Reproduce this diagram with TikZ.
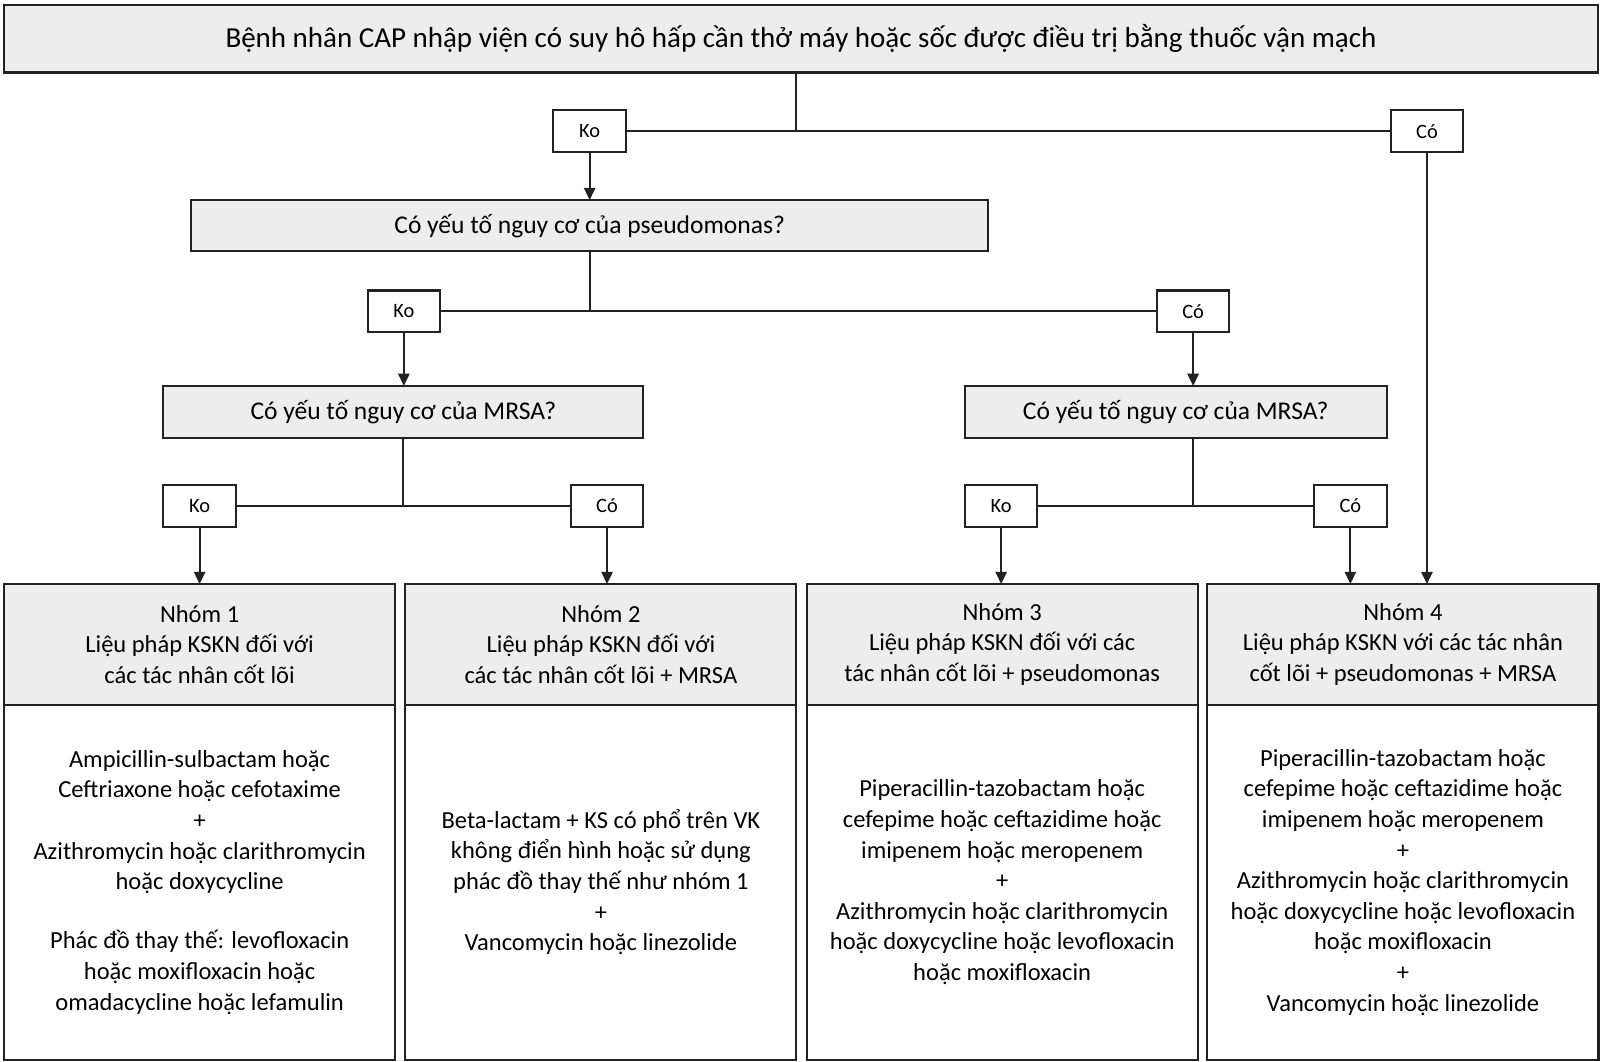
\documentclass[tikz,border=0pt]{standalone}
\usepackage{fontspec}
\setmainfont{Carlito}
\usetikzlibrary{arrows.meta}

\definecolor{boxgray}{HTML}{EDEDED}
\definecolor{linegray}{HTML}{222222}

\begin{document}
\begin{tikzpicture}[x=0.5pt,y=-0.5pt,
    box/.style={draw=linegray,line width=1pt,fill=boxgray,inner sep=0pt,outer sep=0pt,
      font=\fontsize{12}{15}\selectfont},
    question/.style={box,font=\fontsize{12.5}{15}\selectfont},
    answer/.style={draw=linegray,line width=1pt,fill=white,minimum width=35.5pt,
      minimum height=20.5pt,inner sep=0pt,outer sep=0pt,font=\fontsize{10}{12}\selectfont},
    grouphead/.style={box,minimum width=191.5pt,minimum height=59pt,align=center},
    groupbody/.style={box,fill=white,minimum width=191.5pt,minimum height=174pt,align=center},
    link/.style={draw=linegray,line width=1pt},
    arrow/.style={link,-{Triangle[length=6pt,width=5.5pt]}}]
  \useasboundingbox (0,0) rectangle (1567,1040);

  % question boxes
  \node[question,minimum width=780.5pt,minimum height=33pt,font=\fontsize{14.2}{17}\selectfont]
    (start) at (784.5,38) {Bệnh nhân CAP nhập viện có suy hô hấp cần thở máy hoặc sốc được điều trị bằng thuốc vận mạch};
  \node[question,minimum width=390.5pt,minimum height=25pt] (pseudo) at (577.5,221)
    {Có yếu tố nguy cơ của pseudomonas?};
  \node[question,minimum width=235pt,minimum height=25.5pt] (mrsaL) at (395,403.5)
    {Có yếu tố nguy cơ của MRSA?};
  \node[question,minimum width=206.5pt,minimum height=25.5pt] (mrsaR) at (1151.5,403.5)
    {Có yếu tố nguy cơ của MRSA?};

  % answers
  \node[answer] (ko1) at (577.5,128.5) {Ko};
  \node[answer] (co1) at (1397.5,128.5) {Có};
  \node[answer] (ko2) at (395.5,305) {Ko};
  \node[answer] (co2) at (1168.5,305) {Có};
  \node[answer] (ko3) at (195.5,495.5) {Ko};
  \node[answer] (co3) at (594.5,495.5) {Có};
  \node[answer] (ko4) at (980.5,495.5) {Ko};
  \node[answer] (co4) at (1322.5,495.5) {Có};
  \coordinate (split1) at (780,128.5);

  % groups
  \node[grouphead] (head1) at (195.5,631) {Nhóm 1\\Liệu pháp KSKN đối với\\các tác nhân cốt lõi};
  \node[grouphead] (head2) at (588.5,631) {Nhóm 2\\Liệu pháp KSKN đối với\\các tác nhân cốt lõi + MRSA};
  \node[grouphead] (head3) at (981.5,631) {Nhóm 3\\Liệu pháp KSKN đối với các\\tác nhân cốt lõi + pseudomonas};
  \node[grouphead] (head4) at (1374,631) {Nhóm 4\\Liệu pháp KSKN với các tác nhân\\cốt lõi + pseudomonas + MRSA};

  \node[groupbody] (body1) at (195.5,864) {Ampicillin-sulbactam hoặc\\Ceftriaxone hoặc cefotaxime\\+\\
    Azithromycin hoặc clarithromycin\\hoặc doxycycline\\[14pt]
    Phác đồ thay thế: levofloxacin\\hoặc moxifloxacin hoặc\\omadacycline hoặc lefamulin};
  \node[groupbody] (body2) at (588.5,864) {Beta-lactam + KS có phổ trên VK\\không điển hình hoặc sử dụng\\
    phác đồ thay thế như nhóm 1\\+\\Vancomycin hoặc linezolide};
  \node[groupbody] (body3) at (981.5,864) {Piperacillin-tazobactam hoặc\\cefepime hoặc ceftazidime hoặc\\
    imipenem hoặc meropenem\\+\\Azithromycin hoặc clarithromycin\\hoặc doxycycline hoặc levofloxacin\\
    hoặc moxifloxacin};
  \node[groupbody] (body4) at (1374,864) {Piperacillin-tazobactam hoặc\\cefepime hoặc ceftazidime hoặc\\
    imipenem hoặc meropenem\\+\\Azithromycin hoặc clarithromycin\\hoặc doxycycline hoặc levofloxacin\\
    hoặc moxifloxacin\\+\\Vancomycin hoặc linezolide};

  % connectors
  \draw[link] (split1 |- start.south) -- (split1);
  \draw[link] (ko1.east) -- (co1.west);
  \draw[arrow] (ko1.south) -- (pseudo.north -| ko1);
  \draw[arrow] (co1.south) -- (head4.north -| co1);

  \draw[link] (pseudo.south) -- (pseudo.south |- ko2);
  \draw[link] (ko2.east) -- (co2.west);
  \draw[arrow] (ko2.south) -- (mrsaL.north -| ko2);
  \draw[arrow] (co2.south) -- (mrsaR.north -| co2);

  \draw[link] (mrsaL.south) -- (mrsaL.south |- ko3);
  \draw[link] (ko3.east) -- (co3.west);
  \draw[link] (mrsaR.south -| co2) -- (ko4 -| co2);
  \draw[link] (ko4.east) -- (co4.west);

  \draw[arrow] (ko3.south) -- (head1.north -| ko3);
  \draw[arrow] (co3.south) -- (head2.north -| co3);
  \draw[arrow] (ko4.south) -- (head3.north -| ko4);
  \draw[arrow] (co4.south) -- (head4.north -| co4);
\end{tikzpicture}
\end{document}
